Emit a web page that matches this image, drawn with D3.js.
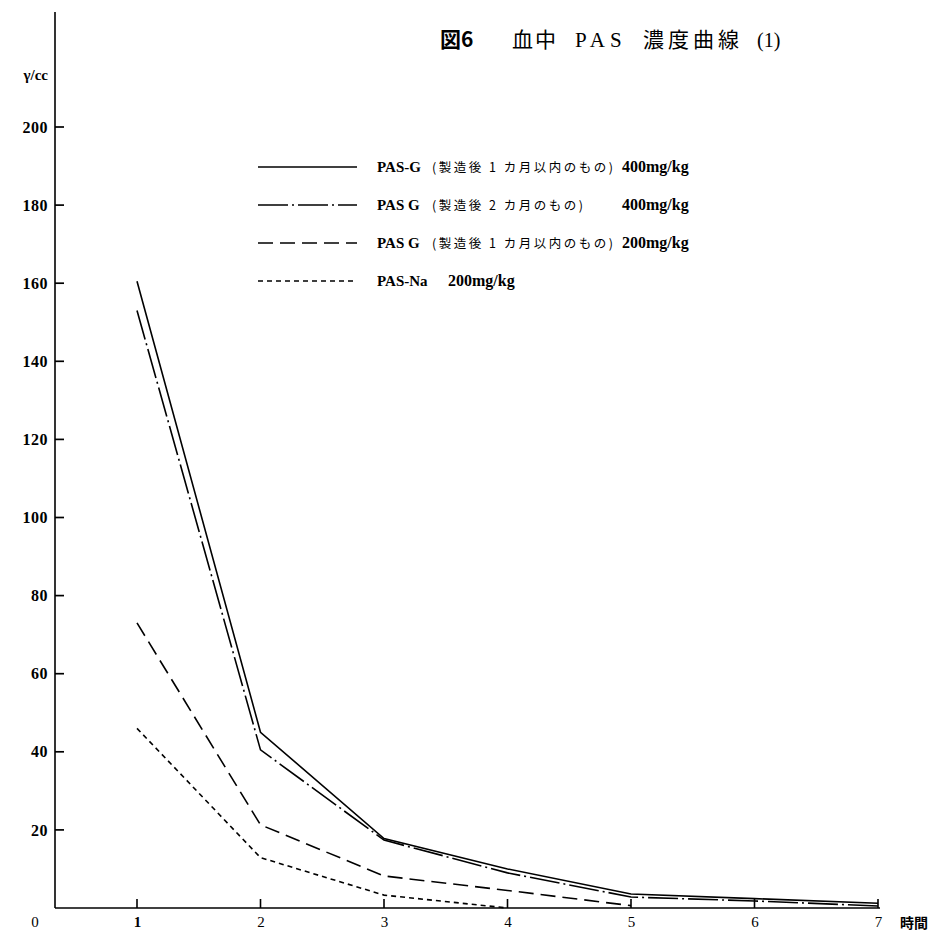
<!DOCTYPE html>
<html>
<head>
<meta charset="utf-8">
<script src="https://cdn.jsdelivr.net/npm/d3@7"></script>
<style>
  body { margin: 0; background: #fff; }
  svg { display: block; }
  .serif { font-family: "Liberation Serif", "Noto Sans CJK JP", serif; }
</style>
</head>
<body>
<div id="container"></div>
<script>
/* DATA */
const hours = [1, 2, 3, 4, 5, 6, 7];
const pasG1m400 = [160.5, 45, 17.8, 10, 3.6, 2.4, 1.2];
const pasG2m400 = [153, 40.5, 17.4, 9, 2.8, 1.8, 0.5];
const pasG1m200 = [73, 21.3, 8.2, 4.5, 0.6];
const pasNa200 = [46, 12.9, 3.3, 0];
const yTicks = [20, 40, 60, 80, 100, 120, 140, 160, 180, 200];

const legendNames = ["PAS-G", "PAS G", "PAS G", "PAS-Na"];
const legendNotes = ["(製造後 1 カ月以内のもの)", "(製造後 2 カ月のもの)", "(製造後 1 カ月以内のもの)", ""];
const legendDoses = ["400mg/kg", "400mg/kg", "200mg/kg", "200mg/kg"];

/* CONSTANTS */
const width = 940,
  height = 933;

const series = [
  { values: pasG1m400, dash: null },
  { values: pasG2m400, dash: "30,4,2,4" },
  { values: pasG1m200, dash: "15,7" },
  { values: pasNa200, dash: "5,4" }
];

// scales
const xScale = d3.scaleLinear().domain([1, 7]).range([137, 878]);
const yScale = d3.scaleLinear().domain([0, 200]).range([908, 127]);
const originX = 55;

const svg = d3.select("#container")
  .append("svg")
  .attr("width", width)
  .attr("height", height);

// y axis line (runs up past 200)
svg.append("line")
  .attr("x1", originX).attr("x2", originX)
  .attr("y1", 12).attr("y2", yScale(0))
  .attr("stroke", "#000").attr("stroke-width", 1.6);

// x axis line
svg.append("line")
  .attr("x1", originX).attr("x2", xScale(7) + 2)
  .attr("y1", yScale(0)).attr("y2", yScale(0))
  .attr("stroke", "#000").attr("stroke-width", 1.6);

// y tick labels
const yAxis = svg.append("g")
  .attr("transform", `translate(${originX},0)`)
  .call(d3.axisLeft(yScale).tickValues(yTicks).tickSize(0).tickPadding(7));
yAxis.select(".domain").remove();
yAxis.selectAll("text")
  .attr("class", "serif")
  .attr("fill", "#000")
  .style("font-size", "16px")
  .style("font-weight", "bold")
  .style("letter-spacing", "0.5px");

// y tick marks, pointing inward
svg.selectAll("line.ytick")
  .data(yTicks)
  .join("line")
  .attr("class", "ytick")
  .attr("x1", originX).attr("x2", originX + 9)
  .attr("y1", d => yScale(d)).attr("y2", d => yScale(d))
  .attr("stroke", "#000").attr("stroke-width", 1.7);

// x tick labels
const xAxis = svg.append("g")
  .attr("transform", `translate(0,${yScale(0)})`)
  .call(d3.axisBottom(xScale).tickValues(hours).tickFormat(d3.format("d")).tickSize(0).tickPadding(8));
xAxis.select(".domain").remove();
xAxis.selectAll("text")
  .attr("class", "serif")
  .attr("fill", "#000")
  .style("font-size", "15px")
  .style("font-weight", d => d === 1 ? "bold" : "normal");

// x tick marks, pointing up
svg.selectAll("line.xtick")
  .data(hours)
  .join("line")
  .attr("class", "xtick")
  .attr("x1", d => xScale(d)).attr("x2", d => xScale(d))
  .attr("y1", yScale(0)).attr("y2", yScale(0) - 9)
  .attr("stroke", "#000").attr("stroke-width", 1.6);

// origin label and axis titles
svg.append("text")
  .attr("class", "serif")
  .attr("x", 35).attr("y", 927)
  .attr("text-anchor", "middle")
  .style("font-size", "15px")
  .text("0");

svg.append("text")
  .attr("class", "serif")
  .attr("x", 900).attr("y", 928)
  .style("font-size", "14px")
  .style("font-weight", "bold")
  .text("時間");

svg.append("text")
  .attr("class", "serif")
  .attr("x", 48).attr("y", 80)
  .attr("text-anchor", "end")
  .style("font-size", "15px")
  .style("font-weight", "bold")
  .text("γ/cc");

// title
svg.append("text")
  .attr("x", 440).attr("y", 47)
  .style("font-family", "'Noto Sans CJK JP'")
  .style("font-size", "21px")
  .style("font-weight", "bold")
  .text("図6");

const title = svg.append("text")
  .attr("class", "serif")
  .attr("y", 47)
  .style("font-size", "21px");
title.append("tspan").attr("x", 512).style("letter-spacing", "2px").text("血中");
title.append("tspan").attr("x", 575).style("letter-spacing", "5px").text("PAS");
title.append("tspan").attr("x", 643).style("letter-spacing", "4px").text("濃度曲線");
title.append("tspan").attr("x", 757).style("font-size", "20px").text("(1)");

// lines
const line = d3.line()
  .x((d, i) => xScale(hours[i]))
  .y(d => yScale(d));

svg.selectAll("path.series")
  .data(series)
  .join("path")
  .attr("class", "series")
  .attr("d", d => line(d.values))
  .attr("fill", "none")
  .attr("stroke", "#000")
  .attr("stroke-width", 1.6)
  .attr("stroke-dasharray", d => d.dash);

// legend
const legendY = d3.scalePoint().domain(d3.range(4)).range([167, 281]);

const legend = svg.selectAll("g.legend")
  .data(series)
  .join("g")
  .attr("class", "legend")
  .attr("transform", (d, i) => `translate(0,${legendY(i)})`);

legend.append("line")
  .attr("x1", 258).attr("x2", 357)
  .attr("stroke", "#000")
  .attr("stroke-width", 1.4)
  .attr("stroke-dasharray", d => d.dash);

legend.append("text")
  .attr("class", "serif")
  .attr("x", 377).attr("y", 5)
  .style("font-size", "15px")
  .style("font-weight", "bold")
  .text((d, i) => legendNames[i]);

legend.append("text")
  .attr("x", 432).attr("y", 5)
  .style("font-family", "'Noto Sans CJK JP'")
  .style("font-size", "12.5px")
  .style("letter-spacing", "2.5px")
  .text((d, i) => legendNotes[i]);

legend.append("text")
  .attr("class", "serif")
  .attr("x", (d, i) => i === 3 ? 448 : 622).attr("y", 5)
  .style("font-size", "16px")
  .style("font-weight", "bold")
  .text((d, i) => legendDoses[i]);
</script>
</body>
</html>
